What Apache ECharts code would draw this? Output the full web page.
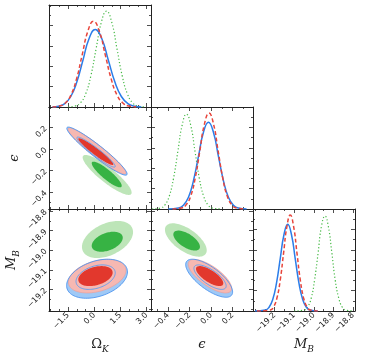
<!DOCTYPE html>
<html>
<head>
<meta charset="utf-8">
<script src="https://cdn.jsdelivr.net/npm/echarts@6/dist/echarts.min.js"></script>
<style>
  html, body { margin: 0; padding: 0; background: #fff; }
  #chart { width: 374px; height: 361px; }
</style>
</head>
<body>
<div id="chart"></div>
<script>
// axis ranges and ticks
var omRange = [-2.6, 3.25];
var epsRange = [-0.56, 0.39];
var mbRange = [-19.31, -18.79];
var pdfRange = [0, 1];
var omTicks = [-1.5, 0, 1.5, 3.0];
var omMinor = [-2.5, -2, -1, -0.5, 0.5, 1, 2, 2.5];
var epsTicks = [-0.4, -0.2, 0, 0.2];
var epsMinor = [-0.5, -0.3, -0.1, 0.1, 0.3];
var mbTicks = [-19.2, -19.1, -19.0, -18.9, -18.8];
var mbMinor = [-19.3, -19.25, -19.15, -19.05, -18.95, -18.85];
var pdfTicks = [0.2, 0.4, 0.6, 0.8];
var pdfMinor = [0.1, 0.3, 0.5, 0.7, 0.9];

// 1D posteriors [x, relative density]
var omBlue = [[-2.4,0],[-2.05,0.008],[-1.7,0.033],[-1.35,0.103],[-1.0,0.247],[-0.65,0.461],[-0.3,0.671],[0.05,0.76],[0.425,0.671],[0.8,0.461],[1.175,0.247],[1.55,0.103],[1.925,0.033],[2.3,0.008],[2.7,0]];
var omRed = [[-2.4,0],[-2.0,0.009],[-1.675,0.037],[-1.35,0.114],[-1.025,0.273],[-0.7,0.509],[-0.375,0.741],[-0.05,0.84],[0.29,0.741],[0.63,0.509],[0.97,0.273],[1.31,0.114],[1.65,0.037],[1.99,0.009],[2.4,0]];
var omGreen = [[-1.5,0],[-1.1,0.010],[-0.8,0.041],[-0.5,0.127],[-0.2,0.305],[0.1,0.570],[0.4,0.830],[0.7,0.94],[1.0,0.830],[1.3,0.570],[1.6,0.305],[1.9,0.127],[2.2,0.041],[2.5,0.010],[2.9,0]];
var epsBlue = [[-0.4,0],[-0.304,0.009],[-0.258,0.037],[-0.211,0.115],[-0.165,0.276],[-0.118,0.516],[-0.072,0.750],[-0.025,0.85],[0.022,0.750],[0.068,0.516],[0.115,0.276],[0.161,0.115],[0.208,0.037],[0.254,0.009],[0.33,0]];
var epsRed = [[-0.36,0],[-0.275,0.010],[-0.233,0.041],[-0.19,0.127],[-0.148,0.305],[-0.105,0.570],[-0.063,0.830],[-0.02,0.94],[0.023,0.830],[0.065,0.570],[0.108,0.305],[0.15,0.127],[0.193,0.041],[0.235,0.010],[0.32,0]];
var epsGreen = [[-0.55,0],[-0.47,0.010],[-0.43,0.041],[-0.39,0.126],[-0.35,0.302],[-0.31,0.564],[-0.27,0.821],[-0.23,0.93],[-0.19,0.821],[-0.15,0.564],[-0.11,0.302],[-0.07,0.126],[-0.03,0.041],[0.01,0.010],[0.09,0]];
var mbBlue = [[-19.3,0],[-19.247,0.009],[-19.228,0.037],[-19.209,0.115],[-19.19,0.276],[-19.171,0.516],[-19.152,0.750],[-19.133,0.85],[-19.114,0.750],[-19.095,0.516],[-19.076,0.276],[-19.057,0.115],[-19.038,0.037],[-19.019,0.009],[-18.98,0]];
var mbRed = [[-19.29,0],[-19.222,0.010],[-19.205,0.041],[-19.188,0.127],[-19.171,0.305],[-19.154,0.570],[-19.137,0.830],[-19.12,0.94],[-19.103,0.830],[-19.086,0.570],[-19.069,0.305],[-19.052,0.127],[-19.035,0.041],[-19.018,0.010],[-18.98,0]];
var mbGreen = [[-19.1,0],[-19.048,0.010],[-19.031,0.041],[-19.013,0.127],[-18.996,0.305],[-18.978,0.570],[-18.961,0.830],[-18.943,0.93],[-18.926,0.830],[-18.908,0.570],[-18.891,0.305],[-18.873,0.127],[-18.856,0.041],[-18.838,0.010],[-18.8,0]];

// 2D contours: [xmin, xmax, ymin, ymax, correlation], first 95% then 68%
var omEpsBlue = [[-1.58, 1.88, -0.245, 0.203, -0.95], [-1.0, 1.2, -0.17, 0.11, -0.95]];
var omEpsRed = [[-1.51, 1.815, -0.234, 0.195, -0.95], [-0.92, 1.09, -0.15, 0.099, -0.95]];
var omEpsGreen = [[-0.67, 2.14, -0.429, -0.057, -0.88], [-0.15, 1.57, -0.358, -0.119, -0.88]];
var omMbBlue = [[-1.59, 1.9, -19.245, -19.046, 0.35], [-1.05, 1.2, -19.2, -19.075, 0.35]];
var omMbRed = [[-1.49, 1.815, -19.218, -19.047, 0.35], [-0.92, 1.05, -19.183, -19.081, 0.35]];
var omMbGreen = [[-0.71, 2.22, -19.04, -18.851, 0.4], [-0.15, 1.63, -19.008, -18.906, 0.4]];
var epsMbBlue = [[-0.237, 0.2, -19.24, -19.046, -0.72], [-0.16, 0.14, -19.2, -19.075, -0.72]];
var epsMbRed = [[-0.213, 0.191, -19.218, -19.047, -0.72], [-0.141, 0.113, -19.183, -19.081, -0.72]];
var epsMbGreen = [[-0.43, -0.041, -19.033, -18.863, -0.62], [-0.352, -0.104, -19.002, -18.90, -0.62]];

var BLUE = '#2b7de9', RED = '#e8453c', GREEN = '#45b945';

function fmt(v) {
  return (v < 0 ? '\u2212' : '') + Math.abs(v).toFixed(1);
}

var serif = 'DejaVu Serif';
var names = {
  om: { text: '{a|Ω}{b|K}', rich: { a: { fontSize: 13, fontFamily: serif, verticalAlign: 'top' }, b: { fontSize: 9, fontFamily: serif, fontStyle: 'italic', verticalAlign: 'bottom', padding: [7, 0, 0, 0] } } },
  eps: { text: '{a|ϵ}', rich: { a: { fontSize: 13, fontFamily: serif, fontStyle: 'italic' } } },
  mb: { text: '{a|M}{b|B}', rich: { a: { fontSize: 13, fontFamily: serif, fontStyle: 'italic', verticalAlign: 'top' }, b: { fontSize: 9, fontFamily: serif, fontStyle: 'italic', verticalAlign: 'bottom', padding: [7, 0, 0, 0] } } }
};

var xAxes = [], yAxes = [], grids = [];

function addAxes(list, kind, g, range, majors, minors, labelOn, nm) {
  var pos = kind === 'x' ? ['bottom', 'top'] : ['left', 'right'];
  pos.forEach(function (p, i) {
    [majors, minors].forEach(function (vals, j) {
      var ax = {
        type: 'value', gridIndex: g, position: p, min: range[0], max: range[1],
        axisLine: { show: j === 0, onZero: false, lineStyle: { color: '#222', width: 1 } },
        axisTick: { show: true, inside: true, length: j === 0 ? 4 : 2, customValues: vals, lineStyle: { color: '#222', width: 0.8 } },
        axisLabel: {
          show: !!labelOn && i === 0 && j === 0, customValues: majors, formatter: fmt,
          rotate: 45, fontSize: 8, margin: 3, color: '#222', fontFamily: 'DejaVu Sans',
          showMinLabel: true, showMaxLabel: true
        },
        splitLine: { show: false },
        axisPointer: { show: false }
      };
      if (nm && i === 0 && j === 0) {
        ax.name = names[nm].text;
        ax.nameLocation = 'middle';
        ax.nameGap = kind === 'x' ? 27 : 28;
        ax.nameRotate = kind === 'x' ? 0 : 90;
        ax.nameTextStyle = { color: '#222', rich: names[nm].rich };
      }
      list.push(ax);
    });
  });
}

// [row, col, xRange, xTicks, xMinor, yRange, yTicks, yMinor, xLabel, yLabel]
var panels = [
  [0, 0, omRange, omTicks, omMinor, pdfRange, pdfTicks, pdfMinor, null, null],
  [1, 0, omRange, omTicks, omMinor, epsRange, epsTicks, epsMinor, null, 'eps'],
  [1, 1, epsRange, epsTicks, epsMinor, pdfRange, pdfTicks, pdfMinor, null, null],
  [2, 0, omRange, omTicks, omMinor, mbRange, mbTicks, mbMinor, 'om', 'mb'],
  [2, 1, epsRange, epsTicks, epsMinor, mbRange, mbTicks, mbMinor, 'eps', null],
  [2, 2, mbRange, mbTicks, mbMinor, pdfRange, pdfTicks, pdfMinor, 'mb', null]
];

panels.forEach(function (p, g) {
  grids.push({ left: 49 + p[1] * 102, top: 5 + p[0] * 102, width: 102, height: 102, outerBoundsMode: 'none' });
  addAxes(xAxes, 'x', g, p[2], p[3], p[4], p[8], p[8]);
  addAxes(yAxes, 'y', g, p[5], p[6], p[7], p[9], p[9]);
});

var series = [];

function pdfLine(g, data, color, dash, width) {
  series.push({
    type: 'line', xAxisIndex: g * 4, yAxisIndex: g * 4, data: data,
    symbol: 'none', smooth: 0.5, z: 3,
    lineStyle: { color: color, width: width, type: dash }
  });
}

pdfLine(0, omGreen, GREEN, [1.2, 2.2], 1.2);
pdfLine(0, omBlue, BLUE, 'solid', 1.5);
pdfLine(0, omRed, RED, [4, 2.5], 1.5);
pdfLine(2, epsGreen, GREEN, [1.2, 2.2], 1.2);
pdfLine(2, epsBlue, BLUE, 'solid', 1.5);
pdfLine(2, epsRed, RED, [4, 2.5], 1.5);
pdfLine(5, mbGreen, GREEN, [1.2, 2.2], 1.2);
pdfLine(5, mbBlue, BLUE, 'solid', 1.5);
pdfLine(5, mbRed, RED, [4, 2.5], 1.5);

function contour(g, data, styles) {
  series.push({
    type: 'custom', coordinateSystem: 'cartesian2d', xAxisIndex: g * 4, yAxisIndex: g * 4,
    data: data, silent: true,
    renderItem: function (params, api) {
      var x0 = api.value(0), x1 = api.value(1), y0 = api.value(2), y1 = api.value(3), rho = api.value(4);
      var cx = (x0 + x1) / 2, cy = (y0 + y1) / 2, dx = (x1 - x0) / 2, dy = (y1 - y0) / 2;
      var phi = Math.acos(rho);
      var pts = [];
      for (var k = 0; k < 96; k++) {
        var t = k / 96 * 2 * Math.PI;
        pts.push(api.coord([cx + dx * Math.cos(t), cy + dy * Math.cos(t - phi)]));
      }
      return { type: 'polygon', shape: { points: pts }, style: styles[params.dataIndex] };
    }
  });
}

var greenFill = [{ fill: '#bde5b8' }, { fill: '#37b344' }];
var blueFill = [{ fill: '#9fc9f6' }, { fill: 'none' }];
var redFill = [{ fill: '#f6b8b2', stroke: '#f09a92', lineWidth: 0.6 }, { fill: '#e2382d' }];
var blueLine = [{ fill: 'none', stroke: '#4f95ee', lineWidth: 0.9 }, { fill: 'none', stroke: '#5a9cf0', lineWidth: 0.9 }];

[[1, omEpsGreen, omEpsBlue, omEpsRed], [3, omMbGreen, omMbBlue, omMbRed], [4, epsMbGreen, epsMbBlue, epsMbRed]].forEach(function (c) {
  contour(c[0], c[1], greenFill);
  contour(c[0], c[2], blueFill);
  contour(c[0], c[3], redFill);
  contour(c[0], c[2], blueLine);
});

var chart = echarts.init(document.getElementById('chart'));
chart.setOption({
  animation: false,
  backgroundColor: '#fff',
  grid: grids,
  xAxis: xAxes,
  yAxis: yAxes,
  series: series
});
</script>
</body>
</html>
